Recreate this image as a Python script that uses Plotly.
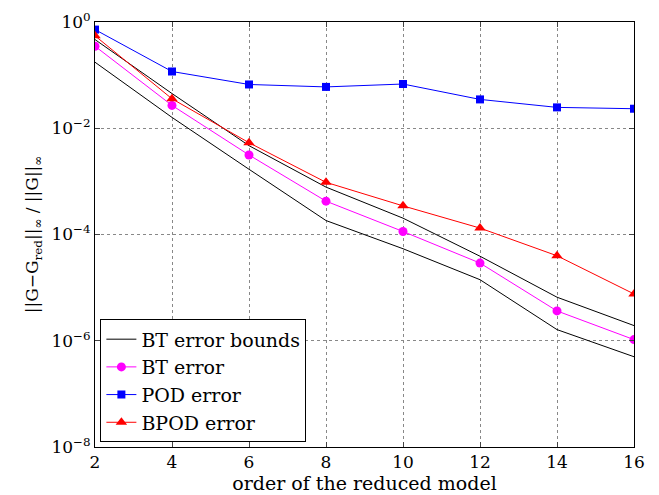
import plotly.graph_objects as go

orders = [2, 4, 6, 8, 10, 12, 14, 16]
bt_upper = [0.467, 0.045, 4.7e-3, 7.8e-4, 2.03e-4, 3.9e-5, 6.6e-6, 1.93e-6]
bt_lower = [0.175, 0.016, 1.69e-3, 1.83e-4, 5.4e-5, 1.41e-5, 1.62e-6, 5.0e-7]
bt_error = [0.35, 0.0269, 3.14e-3, 4.24e-4, 1.14e-4, 2.9e-5, 3.64e-6, 1.05e-6]
pod_error = [0.72, 0.117, 0.0667, 0.060, 0.068, 0.0349, 0.0247, 0.0233]
bpod_error = [0.55, 0.0358, 5.34e-3, 9.6e-4, 3.46e-4, 1.32e-4, 3.98e-5, 7.6e-6]

ytick_vals = [1, 1e-2, 1e-4, 1e-6, 1e-8]
ytick_text = ["10<sup>0</sup>", "10<sup>\u22122</sup>", "10<sup>\u22124</sup>",
              "10<sup>\u22126</sup>", "10<sup>\u22128</sup>"]
xtick_vals = [2, 4, 6, 8, 10, 12, 14, 16]

FONT = "DejaVu Serif"

fig = go.Figure()
fig.add_trace(go.Scatter(x=orders, y=bt_upper, mode="lines", name="BT error bounds",
                         line=dict(color="black", width=1), legendgroup="bt"))
fig.add_trace(go.Scatter(x=orders, y=bt_lower, mode="lines", name="BT error bounds",
                         line=dict(color="black", width=1), legendgroup="bt", showlegend=False))
fig.add_trace(go.Scatter(x=orders, y=bt_error, mode="lines+markers", name="BT error",
                         line=dict(color="#ff00ff", width=1),
                         marker=dict(symbol="circle", size=9, color="#ff00ff")))
fig.add_trace(go.Scatter(x=orders, y=pod_error, mode="lines+markers", name="POD error",
                         line=dict(color="#0000ff", width=1),
                         marker=dict(symbol="square", size=8, color="#0000ff")))
fig.add_trace(go.Scatter(x=orders, y=bpod_error, mode="lines+markers", name="BPOD error",
                         line=dict(color="#ff0000", width=1),
                         marker=dict(symbol="triangle-up", size=10, color="#ff0000")))

fig.update_layout(
    width=659, height=495,
    margin=dict(l=95, r=25, t=22, b=48),
    paper_bgcolor="white", plot_bgcolor="white",
    font=dict(family=FONT, size=17, color="black"),
    showlegend=True,
    legend=dict(x=0.01, y=0.011, xanchor="left", yanchor="bottom",
                bgcolor="white", bordercolor="black", borderwidth=1,
                font=dict(family=FONT, size=19), tracegroupgap=0,
                itemwidth=30),
    xaxis=dict(range=[2, 16], tickvals=xtick_vals, ticks="inside", ticklen=5,
               showline=True, linecolor="black", linewidth=1, mirror="ticks",
               showgrid=True, gridcolor="#888888", griddash="dot", gridwidth=1,
               zeroline=False, automargin=False,
               title=dict(text="order of the reduced model", standoff=2,
                          font=dict(size=19))),
    yaxis=dict(type="log", range=[-8, 0], tickvals=ytick_vals, ticktext=ytick_text,
               ticks="inside", ticklen=5,
               showline=True, linecolor="black", linewidth=1, mirror="ticks",
               showgrid=True, gridcolor="#888888", griddash="dot", gridwidth=1,
               zeroline=False, automargin=False,
               title=dict(text="||G\u2212G<sub>red</sub>||<sub>\u221e</sub> / ||G||<sub>\u221e</sub>",
                          standoff=8, font=dict(size=17))),
)

fig.write_html("out.html")
